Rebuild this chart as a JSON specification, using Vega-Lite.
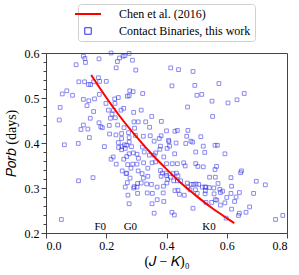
{
  "$schema": "https://vega.github.io/schema/vega-lite/v6.json",
  "width": 241,
  "height": 180,
  "autosize": {"type": "none"},
  "padding": {"left": 46, "top": 53, "right": 12, "bottom": 42},
  "background": "white",
  "config": {
    "view": {"stroke": "#444", "strokeWidth": 1},
    "font": "Liberation Serif",
    "axis": {
      "grid": false,
      "domainColor": "#444",
      "tickColor": "#444",
      "labelFont": "Liberation Serif",
      "labelFontSize": 12,
      "labelColor": "black",
      "titleFont": "Liberation Serif",
      "titleFontSize": 14,
      "titleFontWeight": "normal",
      "titleColor": "black",
      "labelOverlap": false,
      "labelPadding": 2
    },
    "legend": {
      "orient": "none",
      "legendX": 32,
      "legendY": -49,
      "direction": "vertical",
      "padding": 4,
      "strokeColor": "#d0d0d0",
      "fillColor": "white",
      "cornerRadius": 3,
      "labelFont": "Liberation Serif",
      "labelFontSize": 12,
      "labelColor": "black",
      "labelOffset": 25,
      "symbolSize": 100,
      "rowPadding": 5
    }
  },
  "resolve": {"axis": {"y": "independent"}},
  "datasets": {
    "pts": [
      {"x":0.124,"y":0.593},{"x":0.129,"y":0.588},{"x":0.131,"y":0.579},{"x":0.100,"y":0.574},{"x":0.176,"y":0.587},{"x":0.216,"y":0.600},{"x":0.244,"y":0.589},{"x":0.256,"y":0.593},{"x":0.237,"y":0.581},{"x":0.233,"y":0.567},
      {"x":0.109,"y":0.536},{"x":0.128,"y":0.536},{"x":0.141,"y":0.530},{"x":0.148,"y":0.530},{"x":0.158,"y":0.536},{"x":0.174,"y":0.545},{"x":0.178,"y":0.537},{"x":0.200,"y":0.537},
      {"x":0.069,"y":0.516},{"x":0.054,"y":0.509},{"x":0.088,"y":0.506},{"x":0.124,"y":0.497},{"x":0.142,"y":0.494},{"x":0.161,"y":0.498},{"x":0.177,"y":0.508},{"x":0.199,"y":0.488},{"x":0.228,"y":0.498},{"x":0.240,"y":0.501},{"x":0.136,"y":0.483},{"x":0.229,"y":0.488},{"x":0.207,"y":0.473},{"x":0.224,"y":0.473},{"x":0.258,"y":0.477},{"x":0.249,"y":0.473},{"x":0.047,"y":0.479},{"x":0.158,"y":0.470},{"x":0.219,"y":0.464},{"x":0.230,"y":0.456},{"x":0.214,"y":0.455},{"x":0.147,"y":0.455},{"x":0.044,"y":0.451},{"x":0.176,"y":0.445},{"x":0.182,"y":0.436},{"x":0.187,"y":0.434},{"x":0.210,"y":0.439},{"x":0.238,"y":0.440},{"x":0.259,"y":0.434},{"x":0.124,"y":0.440},{"x":0.116,"y":0.430},{"x":0.139,"y":0.431},{"x":0.211,"y":0.420},{"x":0.232,"y":0.418},{"x":0.251,"y":0.421},{"x":0.251,"y":0.410},{"x":0.144,"y":0.412},
      {"x":0.262,"y":0.594},{"x":0.276,"y":0.599},{"x":0.287,"y":0.584},{"x":0.298,"y":0.562},{"x":0.414,"y":0.567},{"x":0.440,"y":0.563},{"x":0.488,"y":0.559},{"x":0.418,"y":0.527},{"x":0.494,"y":0.528},{"x":0.501,"y":0.506},{"x":0.517,"y":0.508},{"x":0.278,"y":0.516},{"x":0.289,"y":0.514},{"x":0.276,"y":0.505},{"x":0.270,"y":0.504},{"x":0.321,"y":0.510},{"x":0.470,"y":0.480},{"x":0.291,"y":0.468},{"x":0.316,"y":0.473},{"x":0.351,"y":0.459},{"x":0.292,"y":0.447},{"x":0.306,"y":0.447},{"x":0.331,"y":0.447},{"x":0.383,"y":0.448},{"x":0.294,"y":0.433},{"x":0.344,"y":0.435},{"x":0.400,"y":0.427},{"x":0.428,"y":0.426},{"x":0.436,"y":0.428},{"x":0.471,"y":0.428},{"x":0.274,"y":0.423},{"x":0.323,"y":0.415},{"x":0.346,"y":0.416},{"x":0.376,"y":0.410},{"x":0.382,"y":0.416},{"x":0.467,"y":0.415},{"x":0.514,"y":0.414},{"x":0.276,"y":0.412},{"x":0.297,"y":0.417},{"x":0.407,"y":0.406},{"x":0.487,"y":0.402},
      {"x":0.574,"y":0.532},{"x":0.658,"y":0.510},{"x":0.634,"y":0.496},{"x":0.604,"y":0.489},{"x":0.551,"y":0.493},{"x":0.553,"y":0.459},
      {"x":0.061,"y":0.396},{"x":0.107,"y":0.399},{"x":0.194,"y":0.392},{"x":0.240,"y":0.401},{"x":0.241,"y":0.390},{"x":0.252,"y":0.392},{"x":0.260,"y":0.396},{"x":0.251,"y":0.385},{"x":0.223,"y":0.369},{"x":0.216,"y":0.364},{"x":0.233,"y":0.353},{"x":0.258,"y":0.364},{"x":0.253,"y":0.338},{"x":0.266,"y":0.332},{"x":0.108,"y":0.316},{"x":0.156,"y":0.323},{"x":0.051,"y":0.230},{"x":0.263,"y":0.302},
      {"x":0.276,"y":0.402},{"x":0.268,"y":0.395},{"x":0.263,"y":0.388},{"x":0.284,"y":0.392},{"x":0.290,"y":0.378},{"x":0.276,"y":0.376},{"x":0.268,"y":0.370},{"x":0.302,"y":0.375},{"x":0.288,"y":0.353},{"x":0.271,"y":0.352},{"x":0.302,"y":0.353},{"x":0.307,"y":0.366},{"x":0.320,"y":0.391},{"x":0.326,"y":0.380},{"x":0.343,"y":0.373},{"x":0.359,"y":0.404},{"x":0.380,"y":0.393},{"x":0.378,"y":0.386},{"x":0.408,"y":0.403},{"x":0.410,"y":0.393},{"x":0.402,"y":0.388},{"x":0.427,"y":0.376},{"x":0.432,"y":0.400},{"x":0.464,"y":0.399},{"x":0.481,"y":0.404},{"x":0.497,"y":0.380},{"x":0.527,"y":0.379},{"x":0.522,"y":0.393},
      {"x":0.359,"y":0.373},{"x":0.364,"y":0.378},{"x":0.391,"y":0.369},{"x":0.400,"y":0.354},{"x":0.419,"y":0.354},{"x":0.436,"y":0.354},{"x":0.457,"y":0.356},{"x":0.462,"y":0.349},{"x":0.497,"y":0.354},{"x":0.504,"y":0.348},{"x":0.522,"y":0.347},{"x":0.324,"y":0.356},{"x":0.352,"y":0.356},{"x":0.364,"y":0.358},
      {"x":0.282,"y":0.344},{"x":0.268,"y":0.333},{"x":0.306,"y":0.338},{"x":0.319,"y":0.332},{"x":0.338,"y":0.344},{"x":0.380,"y":0.339},{"x":0.386,"y":0.333},{"x":0.399,"y":0.333},{"x":0.422,"y":0.332},{"x":0.433,"y":0.333},{"x":0.438,"y":0.327},
      {"x":0.338,"y":0.326},{"x":0.323,"y":0.322},{"x":0.279,"y":0.322},{"x":0.270,"y":0.312},{"x":0.304,"y":0.310},{"x":0.316,"y":0.311},{"x":0.293,"y":0.303},{"x":0.302,"y":0.302},{"x":0.334,"y":0.309},{"x":0.350,"y":0.308},
      {"x":0.382,"y":0.326},{"x":0.400,"y":0.328},{"x":0.404,"y":0.319},{"x":0.413,"y":0.324},{"x":0.424,"y":0.316},{"x":0.436,"y":0.316},{"x":0.447,"y":0.316},{"x":0.469,"y":0.311},{"x":0.482,"y":0.308},{"x":0.490,"y":0.308},{"x":0.498,"y":0.309},{"x":0.507,"y":0.308},{"x":0.519,"y":0.302},{"x":0.528,"y":0.302},
      {"x":0.369,"y":0.302},{"x":0.390,"y":0.304},{"x":0.401,"y":0.311},{"x":0.428,"y":0.294},{"x":0.438,"y":0.295},{"x":0.443,"y":0.286},{"x":0.459,"y":0.284},{"x":0.471,"y":0.302},{"x":0.478,"y":0.296},{"x":0.496,"y":0.296},{"x":0.502,"y":0.288},{"x":0.529,"y":0.294},
      {"x":0.291,"y":0.300},{"x":0.272,"y":0.284},{"x":0.304,"y":0.288},{"x":0.336,"y":0.289},{"x":0.353,"y":0.288},{"x":0.389,"y":0.289},{"x":0.369,"y":0.274},{"x":0.352,"y":0.265},{"x":0.276,"y":0.265},{"x":0.391,"y":0.270},{"x":0.488,"y":0.255},{"x":0.418,"y":0.246},{"x":0.426,"y":0.240},{"x":0.359,"y":0.244},
      {"x":0.561,"y":0.395},{"x":0.569,"y":0.395},{"x":0.594,"y":0.376},{"x":0.566,"y":0.348},{"x":0.561,"y":0.341},{"x":0.646,"y":0.334},{"x":0.649,"y":0.338},{"x":0.543,"y":0.324},{"x":0.562,"y":0.324},{"x":0.614,"y":0.323},{"x":0.571,"y":0.310},{"x":0.698,"y":0.315},{"x":0.728,"y":0.307},
      {"x":0.531,"y":0.302},{"x":0.542,"y":0.301},{"x":0.557,"y":0.300},{"x":0.577,"y":0.297},{"x":0.616,"y":0.304},{"x":0.528,"y":0.287},{"x":0.558,"y":0.287},{"x":0.579,"y":0.290},{"x":0.586,"y":0.293},{"x":0.614,"y":0.288},{"x":0.642,"y":0.290},{"x":0.689,"y":0.288},
      {"x":0.562,"y":0.274},{"x":0.567,"y":0.273},{"x":0.600,"y":0.279},{"x":0.631,"y":0.280},{"x":0.550,"y":0.268},{"x":0.579,"y":0.262},{"x":0.594,"y":0.267},{"x":0.626,"y":0.270},{"x":0.676,"y":0.258},{"x":0.616,"y":0.253},{"x":0.664,"y":0.246},{"x":0.642,"y":0.244},{"x":0.639,"y":0.239},{"x":0.598,"y":0.233},{"x":0.762,"y":0.230},{"x":0.786,"y":0.239},{"x":0.531,"y":0.268}
    ],
    "curve": [
      {"x":0.15,"y":0.551},{"x":0.2,"y":0.501},{"x":0.25,"y":0.455},{"x":0.3,"y":0.414},{"x":0.35,"y":0.376},{"x":0.4,"y":0.342},{"x":0.45,"y":0.310},{"x":0.5,"y":0.282},{"x":0.55,"y":0.256},{"x":0.6,"y":0.233},{"x":0.625,"y":0.222}
    ],
    "sp": [
      {"x":0.18,"y":0.213,"t":"F0"},{"x":0.28,"y":0.213,"t":"G0"},{"x":0.541,"y":0.213,"t":"K0"}
    ]
  },
  "layer": [
    {
      "data": {"name": "pts"},
      "mark": {"type": "point", "shape": "square", "filled": false, "size": 14, "strokeWidth": 1, "opacity": 0.55},
      "encoding": {
        "x": {
          "field": "x", "type": "quantitative",
          "scale": {"domain": [0, 0.8], "nice": false, "zero": false},
          "axis": {
            "title": "(𝐽 − 𝐾)₀",
            "values": [0,0.05,0.1,0.15,0.2,0.25,0.3,0.35,0.4,0.45,0.5,0.55,0.6,0.65,0.7,0.75,0.8],
            "labelExpr": "abs(datum.value/0.2 - round(datum.value/0.2)) < 0.001 ? format(datum.value, '.1f') : ''",
            "labelOverlap": false,
            "tickSize": {"condition": {"test": "abs(datum.value/0.2 - round(datum.value/0.2)) < 0.001", "value": 5}, "value": 3},
            "titlePadding": 3
          }
        },
        "y": {
          "field": "y", "type": "quantitative",
          "scale": {"domain": [0.2, 0.6], "nice": false, "zero": false},
          "axis": {
            "orient": "left",
            "title": "𝑃𝑜𝑟𝑏 (days)",
            "values": [0.2, 0.3, 0.4, 0.5, 0.6],
            "format": ".1f",
            "labelOverlap": false,
            "labelFlush": false,
            "labelBound": false,
            "tickSize": 5,
            "titlePadding": 6
          }
        },
        "color": {
          "datum": "Contact Binaries, this work",
          "scale": {"domain": ["Chen et al. (2016)", "Contact Binaries, this work"], "range": ["red", "#2a2ae8"]},
          "legend": {
            "title": null,
            "encode": {
              "symbols": {
                "update": {
                  "shape": {"signal": "datum.value === 'Chen et al. (2016)' ? 'stroke' : 'square'"},
                  "size": {"signal": "datum.value === 'Chen et al. (2016)' ? 676 : 42"},
                  "strokeWidth": {"signal": "datum.value === 'Chen et al. (2016)' ? 2 : 1"},
                  "fill": {"value": "transparent"},
                  "stroke": {"signal": "datum.value === 'Chen et al. (2016)' ? 'red' : '#7070e8'"},
                  "opacity": {"value": 1}
                }
              }
            }
          }
        }
      }
    },
    {
      "data": {"name": "curve"},
      "mark": {"type": "line", "strokeWidth": 2, "interpolate": "monotone"},
      "encoding": {
        "x": {"field": "x", "type": "quantitative"},
        "y": {
          "field": "y", "type": "quantitative",
          "axis": {
            "orient": "left",
            "title": null,
            "labels": false,
            "domain": false,
            "tickSize": 3,
            "values": [0.22,0.24,0.26,0.28,0.32,0.34,0.36,0.38,0.42,0.44,0.46,0.48,0.52,0.54,0.56,0.58]
          }
        },
        "color": {
          "datum": "Chen et al. (2016)",
          "legend": {
            "title": null,
            "encode": {
              "symbols": {
                "update": {
                  "shape": {"signal": "datum.value === 'Chen et al. (2016)' ? 'stroke' : 'square'"},
                  "size": {"signal": "datum.value === 'Chen et al. (2016)' ? 676 : 42"},
                  "strokeWidth": {"signal": "datum.value === 'Chen et al. (2016)' ? 2 : 1"},
                  "fill": {"value": "transparent"},
                  "stroke": {"signal": "datum.value === 'Chen et al. (2016)' ? 'red' : '#7070e8'"},
                  "opacity": {"value": 1}
                }
              }
            }
          }
        }
      }
    },
    {
      "data": {"name": "sp"},
      "mark": {"type": "text", "font": "Liberation Serif", "fontSize": 11, "color": "black", "baseline": "middle", "align": "center"},
      "encoding": {
        "x": {"field": "x", "type": "quantitative"},
        "y": {"field": "y", "type": "quantitative", "axis": null},
        "text": {"field": "t"}
      }
    }
  ]
}
